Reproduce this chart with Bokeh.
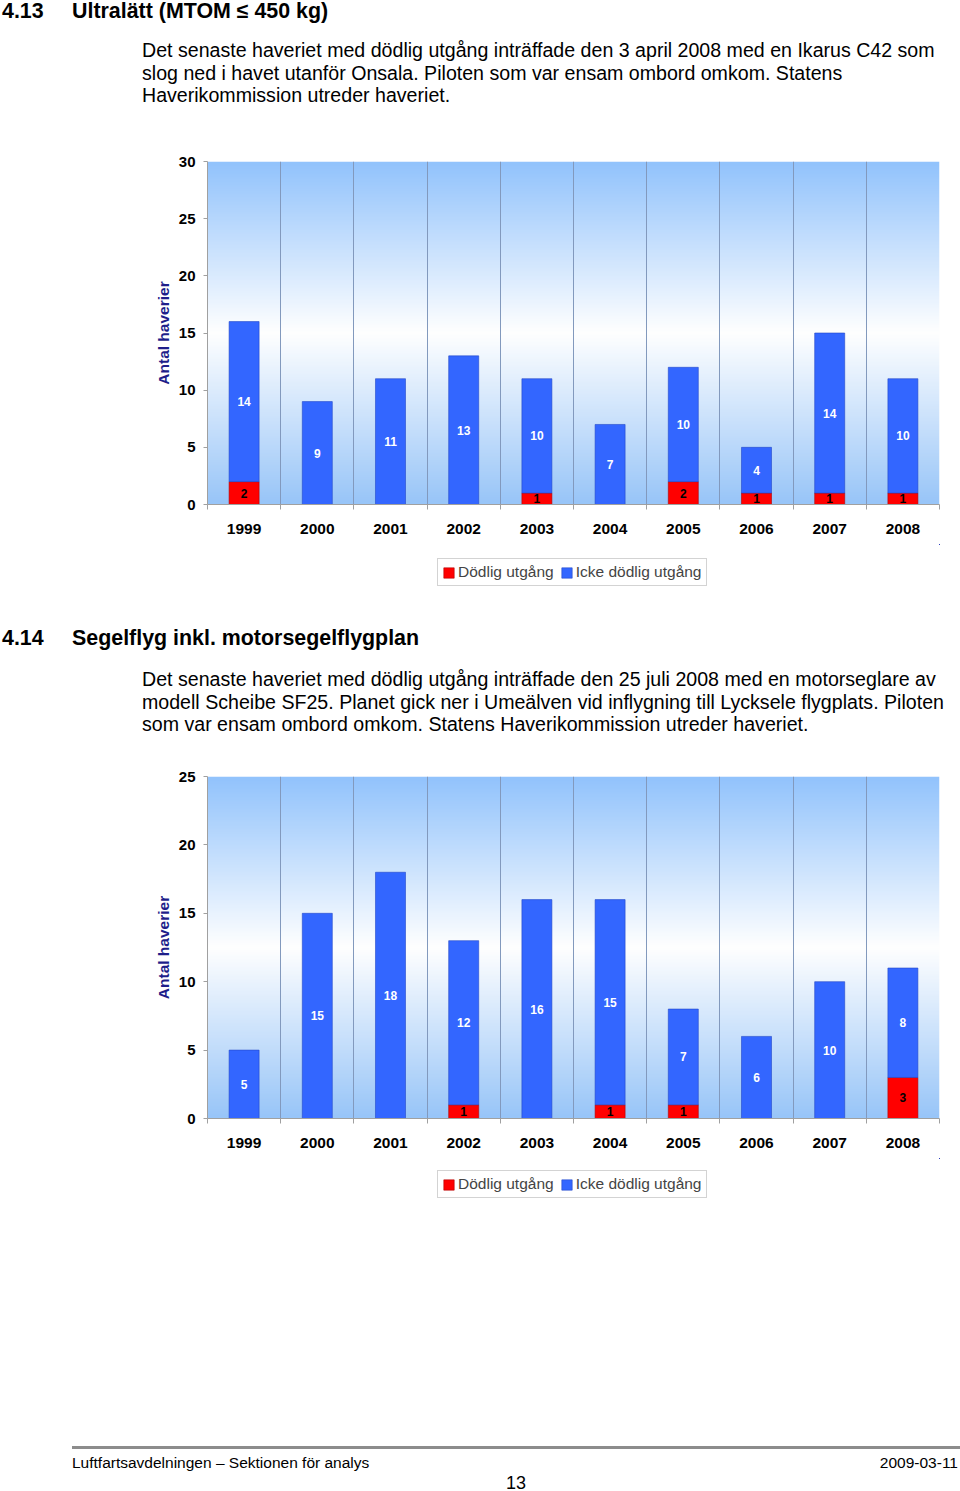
import numpy as np
from bokeh.plotting import figure
from bokeh.models import Range1d, FixedTicker, Legend, LegendItem, ColumnDataSource, Div
from bokeh.layouts import column
from bokeh.core.properties import value
from bokeh.embed import file_html
from bokeh.resources import INLINE

# ---------------- data ----------------
years = [1999, 2000, 2001, 2002, 2003, 2004, 2005, 2006, 2007, 2008]
ul_fatal = [2, 0, 0, 0, 1, 0, 2, 1, 1, 1]
ul_nonfatal = [14, 9, 11, 13, 10, 7, 10, 4, 14, 10]
sg_fatal = [0, 0, 0, 1, 0, 1, 1, 0, 0, 3]
sg_nonfatal = [5, 15, 18, 12, 16, 15, 7, 6, 10, 8]
ul_yticks = [0, 5, 10, 15, 20, 25, 30]
sg_yticks = [0, 5, 10, 15, 20, 25]
series_labels = ["Dödlig utgång", "Icke dödlig utgång"]
y_title = "Antal haverier"

h1_num, h1_text = "4.13", "Ultralätt (MTOM ≤ 450 kg)"
p1_lines = [
    "Det senaste haveriet med dödlig utgång inträffade den 3 april 2008 med en Ikarus C42 som",
    "slog ned i havet utanför Onsala. Piloten som var ensam ombord omkom. Statens",
    "Haverikommission utreder haveriet.",
]
h2_num, h2_text = "4.14", "Segelflyg inkl. motorsegelflygplan"
p2_lines = [
    "Det senaste haveriet med dödlig utgång inträffade den 25 juli 2008 med en motorseglare av",
    "modell Scheibe SF25. Planet gick ner i Umeälven vid inflygning till Lycksele flygplats. Piloten",
    "som var ensam ombord omkom. Statens Haverikommission utreder haveriet.",
]
footer_left = "Luftfartsavdelningen – Sektionen för analys"
footer_right = "2009-03-11"
page_no = "13"

FONT = "Liberation Sans"
CSSFONT = "'Liberation Sans', Arial, sans-serif"
RED = "#ff0000"
BLUE = "#3366ff"
RED_LINE = "#b00000"
BLUE_LINE = "#2448c8"
LEFT, RIGHT, TOP, BOTTOM, FRAME_W = 205, 10, 21, 40, 732


def gradient_image(n=256):
    t = np.linspace(0.0, 1.0, n)
    top = np.array([146, 195, 252], dtype=float)
    bot = np.array([152, 197, 248], dtype=float)
    white = np.array([255, 255, 255], dtype=float)
    img = np.zeros((n, 1), dtype=np.uint32)
    view = img.view(dtype=np.uint8).reshape((n, 1, 4))
    for i, ti in enumerate(t):
        if ti >= 0.5:
            w = (ti - 0.5) / 0.5
            c = white * (1 - w) + top * w
        else:
            w = (0.5 - ti) / 0.5
            c = white * (1 - w) + bot * w
        view[i, 0, 0:3] = c.astype(np.uint8)
        view[i, 0, 3] = 255
    return img


def make_chart(fatal, nonfatal, yticks, frame_h):
    ymax = yticks[-1]
    x0 = years[0] - 0.5
    x1 = years[-1] + 0.5
    p = figure(width=LEFT + FRAME_W + RIGHT, height=TOP + frame_h + BOTTOM,
               min_border_left=LEFT, min_border_right=RIGHT, min_border_top=TOP,
               min_border_bottom=BOTTOM,
               x_range=Range1d(x0, x1), y_range=Range1d(0, ymax),
               output_backend="svg", toolbar_location=None)
    p.outline_line_color = None
    p.background_fill_color = "white"
    p.border_fill_color = "white"

    p.image_rgba(image=[gradient_image()], x=x0, y=0, dw=len(years), dh=ymax, level="image")

    src = ColumnDataSource(dict(x=years, fatal=fatal, nonfatal=nonfatal))
    p.vbar_stack(["fatal", "nonfatal"], x="x", width=0.41, source=src,
                 fill_color=[RED, BLUE], line_color=[RED_LINE, BLUE_LINE], line_width=0.6)

    # labels
    rx = [x for x, f in zip(years, fatal) if f]
    ry = [f / 2 for f in fatal if f]
    rt = [str(f) for f in fatal if f]
    bx = [x for x, n in zip(years, nonfatal) if n]
    by = [f + n / 2 for f, n in zip(fatal, nonfatal) if n]
    bt = [str(n) for n in nonfatal if n]
    p.text(x="x", y="y", text="t", source=ColumnDataSource(dict(x=rx, y=ry, t=rt)),
           text_align="center", text_baseline="middle", text_font=value(FONT),
           text_font_style="bold", text_font_size="12px", text_color="#000000")
    p.text(x="x", y="y", text="t", source=ColumnDataSource(dict(x=bx, y=by, t=bt)),
           text_align="center", text_baseline="middle", text_font=value(FONT),
           text_font_style="bold", text_font_size="12px", text_color="#ffffff")

    bounds = [y - 0.5 for y in years] + [years[-1] + 0.5]
    p.xaxis.ticker = FixedTicker(ticks=years, minor_ticks=bounds)
    p.xgrid.ticker = FixedTicker(ticks=bounds[1:])
    p.xgrid.grid_line_color = "#8299bd"
    p.xgrid.grid_line_width = 1
    p.ygrid.grid_line_color = None

    xa = p.xaxis[0]
    xa.axis_line_color = "#a0a0a0"
    xa.major_tick_line_color = None
    xa.major_tick_out = 0
    xa.major_tick_in = 0
    xa.minor_tick_line_color = "#a0a0a0"
    xa.minor_tick_out = 5
    xa.minor_tick_in = 0
    xa.major_label_standoff = 14
    xa.major_label_text_font = FONT
    xa.major_label_text_font_style = "bold"
    xa.major_label_text_font_size = "15.5px"
    xa.major_label_text_color = "#000000"

    ya = p.yaxis[0]
    ya.ticker = FixedTicker(ticks=yticks)
    ya.axis_line_color = "#a0a0a0"
    ya.major_tick_line_color = "#a0a0a0"
    ya.major_tick_out = 4
    ya.major_tick_in = 0
    ya.minor_tick_line_color = None
    ya.major_label_standoff = 8
    ya.major_label_text_font = FONT
    ya.major_label_text_font_style = "bold"
    ya.major_label_text_font_size = "15px"
    ya.major_label_text_color = "#000000"
    ya.axis_label = y_title
    ya.axis_label_text_font = FONT
    ya.axis_label_text_font_style = "bold"
    ya.axis_label_text_font_size = "15.5px"
    ya.axis_label_text_color = "#1e1e8a"
    ya.axis_label_standoff = 4
    return p


def make_legend(fatal, nonfatal, height, bottom_gap):
    # legend-only figure: the series are bound to it but lie far outside its view
    p = figure(width=LEFT + FRAME_W + RIGHT, height=height,
               min_border_left=LEFT, min_border_right=RIGHT, min_border_top=0,
               min_border_bottom=0, x_range=Range1d(0, 1), y_range=Range1d(-200, -199),
               x_axis_location=None, y_axis_location=None,
               output_backend="svg", toolbar_location=None)
    p.outline_line_color = None
    p.grid.visible = False
    src = ColumnDataSource(dict(x=years, fatal=fatal, nonfatal=nonfatal))
    rs = p.vbar_stack(["fatal", "nonfatal"], x="x", width=0.41, source=src,
                      fill_color=[RED, BLUE], line_color=[RED_LINE, BLUE_LINE], line_width=0.6)
    legend = Legend(items=[LegendItem(label=series_labels[0], renderers=[rs[0]]),
                           LegendItem(label=series_labels[1], renderers=[rs[1]])],
                    orientation="horizontal", location=(230, bottom_gap), margin=0, padding=4,
                    spacing=6, label_standoff=3, glyph_width=13, glyph_height=13,
                    label_height=18, label_text_font=FONT, label_text_font_size="15.5px",
                    label_text_baseline="middle",
                    border_line_color="#a8a8a8", border_line_width=1,
                    background_fill_color="white", background_fill_alpha=1.0)
    p.add_layout(legend, "center")
    return p


def heading_block(num, text, lines, height, h_top, p_top):
    body = "<br>".join(lines)
    html = (
        f'<div style="position:relative;width:950px;height:{height}px;font-family:{CSSFONT};color:#000;">'
        f'<div style="position:absolute;left:0px;top:{h_top}px;font-size:21.4px;font-weight:bold;line-height:22px;white-space:nowrap;">{num}</div>'
        f'<div style="position:absolute;left:70px;top:{h_top}px;font-size:21.4px;font-weight:bold;line-height:22px;white-space:nowrap;">{text}</div>'
        f'<div style="position:absolute;left:140px;top:{p_top}px;font-size:19.6px;line-height:22.5px;white-space:nowrap;">{body}</div>'
        '</div>'
    )
    return Div(text=html, width=950, height=height, margin=0)


def footer_block(height):
    html = (
        f'<div style="position:relative;width:958px;height:{height}px;font-family:{CSSFONT};color:#000;">'
        f'<div style="position:absolute;left:70px;top:221px;width:888px;height:3px;background:#8c8c8c;"></div>'
        f'<div style="position:absolute;left:70px;top:229px;font-size:15.5px;line-height:18px;white-space:nowrap;">{footer_left}</div>'
        f'<div style="position:absolute;right:2px;top:229px;font-size:15.5px;line-height:18px;white-space:nowrap;">{footer_right}</div>'
        f'<div style="position:absolute;left:464px;width:100px;text-align:center;top:248px;font-size:18px;line-height:20px;">{page_no}</div>'
        '</div>'
    )
    return Div(text=html, width=958, height=height, margin=0)


t1 = heading_block(h1_num, h1_text, p1_lines, 140, 0, 39)
c1 = make_chart(ul_fatal, ul_nonfatal, ul_yticks, 343)
l1 = make_legend(ul_fatal, ul_nonfatal, 67, 25)
t2 = heading_block(h2_num, h2_text, p2_lines, 144, 16, 57)
c2 = make_chart(sg_fatal, sg_nonfatal, sg_yticks, 342)
l2 = make_legend(sg_fatal, sg_nonfatal, 67, 27)
ft = footer_block(262)

layout = column(t1, c1, l1, t2, c2, l2, ft, spacing=0, margin=(0, 0, 0, 2))

open("out.html", "w").write(file_html(layout, INLINE))
